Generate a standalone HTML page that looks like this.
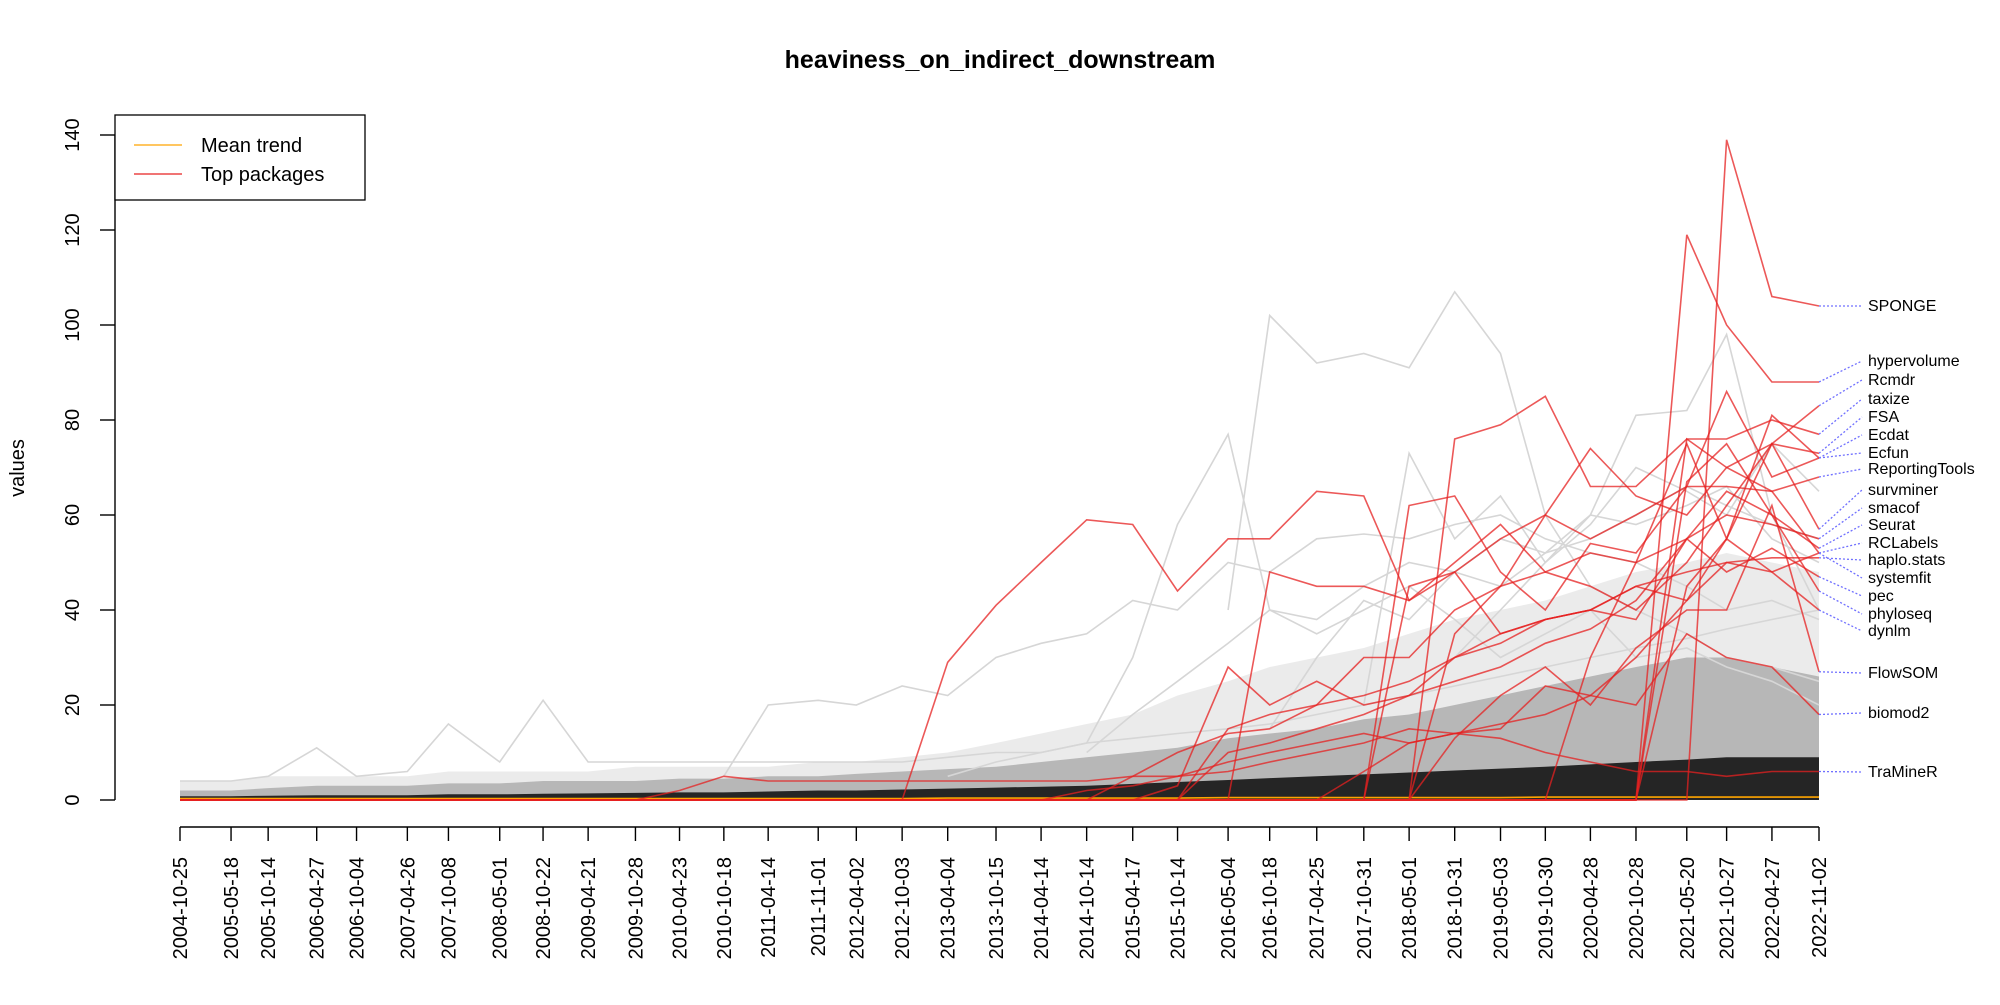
<!DOCTYPE html>
<html><head><meta charset="utf-8"><style>
html,body{margin:0;padding:0;background:#fff;}
svg text{font-family:"Liberation Sans",sans-serif;}
</style></head><body>
<svg id="chart" width="2000" height="1000" xmlns="http://www.w3.org/2000/svg">
<rect width="2000" height="1000" fill="#fff"/>
<text x="1000" y="68" text-anchor="middle" font-size="25" font-weight="bold">heaviness_on_indirect_downstream</text>
<text transform="rotate(-90,24,468)" x="24" y="468" text-anchor="middle" font-size="20">values</text>
<g id="bands"></g><g id="grey"></g><g id="mean"></g><g id="red"></g><g id="conn"></g><g id="axes"></g>
<g>
<rect x="115" y="115" width="250" height="85" fill="#fff" stroke="#000" stroke-width="1.3"/>
<line x1="134" y1="145" x2="182" y2="145" stroke="#ffa500" stroke-width="1.3"/>
<text x="201" y="152" font-size="20">Mean trend</text>
<line x1="134" y1="174" x2="182" y2="174" stroke="#e62020" stroke-width="1.3"/>
<text x="201" y="181" font-size="20">Top packages</text>
</g>
</svg>
<script>
const dates=["2004-10-25","2005-05-18","2005-10-14","2006-04-27","2006-10-04","2007-04-26","2007-10-08","2008-05-01","2008-10-22","2009-04-21","2009-10-28","2010-04-23","2010-10-18","2011-04-14","2011-11-01","2012-04-02","2012-10-03","2013-04-04","2013-10-15","2014-04-14","2014-10-14","2015-04-17","2015-10-14","2016-05-04","2016-10-18","2017-04-25","2017-10-31","2018-05-01","2018-10-31","2019-05-03","2019-10-30","2020-04-28","2020-10-28","2021-05-20","2021-10-27","2022-04-27","2022-11-02"];
const yTicks=[0,20,40,60,80,100,120,140];
const bandLight=[4,4,5,5,5,5,6,6,6,6,7,7,7,7,8,8,9,10,12,14,16,18,22,25,28,30,32,35,38,40,42,45,48,50,52,50,48];
const bandMid=[2,2,2.5,3,3,3,3.5,3.5,4,4,4,4.5,4.5,5,5,5.5,6,6.5,7,8,9,10,11,13,14,15,17,18,20,22,24,26,28,30,30,28,26];
const bandDark=[0.8,0.8,0.9,1,1,1,1.2,1.2,1.3,1.4,1.5,1.6,1.6,1.8,2,2,2.2,2.4,2.6,2.8,3,3.4,3.8,4.2,4.6,5,5.4,5.8,6.2,6.6,7,7.5,8,8.5,9,9,9];
const meanTrend=[0.3,0.3,0.3,0.3,0.3,0.3,0.3,0.3,0.3,0.3,0.3,0.3,0.3,0.3,0.3,0.3,0.3,0.4,0.4,0.4,0.4,0.4,0.4,0.5,0.5,0.5,0.5,0.5,0.5,0.5,0.6,0.6,0.6,0.6,0.6,0.6,0.6];
const greyStarts=[23,17,28,0,12,26,20,24];
const greyVals=[
[40,102,92,94,91,107,94,60,45,40,35,30,28,25],
[5,8,10,12,30,58,77,40,35,40,45,38,30,35,40,30,32,28,25,20],
[30,40,50,60,81,82,98,60,40],
[4,4,5,11,5,6,16,8,21,8,8,8,8,8,8,8,8,9,10,10,12,13,14,15,16,18,20,22,24,26,28,30,32,34,36,38,40],
[5,20,21,20,24,22,30,33,35,42,40,50,48,55,56,55,58,60,55,52,50,45,40,42,38],
[20,73,55,64,50,58,70,65,60,75,65],
[10,18,25,33,40,38,45,50,48,55,52,60,58,62,66,55,50],
[15,30,42,38,48,45,52,55,60,66,62,58,55]];
const redNames=["SPONGE","hypervolume","Rcmdr","taxize","FSA","Ecdat","Ecfun","ReportingTools","survminer","smacof","Seurat","RCLabels","haplo.stats","systemfit","pec","phyloseq","dynlm","FlowSOM","biomod2","TraMineR"];
const redStarts=[33,32,16,27,26,26,30,27,32,22,29,31,20,23,21,22,24,25,19,10];
const redVals=[
[0,139,106,104],
[0,119,100,88,88],
[0,29,41,50,59,58,44,55,55,65,64,42,50,58,48,45,40,50,62,75,83],
[0,76,79,85,66,66,76,76,80,77],
[0,45,48,55,60,74,64,60,70,75,73],
[0,62,64,48,40,54,52,66,86,68,72],
[0,30,50,75,55,81,72],
[0,35,45,60,55,60,66,66,65,68],
[0,45,55,75,57],
[0,15,18,20,30,30,40,45,48,52,50,55,60,58,55],
[0,0,0,0,67,75,60,53],
[0,0,76,70,65,52],
[0,5,10,14,15,20,22,25,30,35,38,40,45,48,50,51,51],
[0,48,45,45,42,48,35,38,40,45,42,55,48,52],
[0,3,28,20,25,20,22,30,33,38,40,38,55,48,53,47],
[0,10,12,15,18,22,25,28,33,36,42,55,65,60,44],
[0,0,6,12,14,16,18,22,30,42,50,48,40],
[0,0,0,13,22,28,20,32,40,40,62,27],
[0,2,3,5,8,10,12,14,12,14,15,24,22,20,35,30,28,18],
[0,2,5,4,4,4,4,4,4,4,4,5,5,6,8,10,12,15,14,13,10,8,6,6,5,6,6]];
const labelYs=[306,361,380,399,417,435,453,469,490,508,525,543,560,578,596,614,631,673,713,772];

const NS="http://www.w3.org/2000/svg";
const X0=180,X1=1819,Y0=800,Y140=135;
const t0=Date.parse(dates[0]),t1=Date.parse(dates[dates.length-1]);
function xs(i){return X0+(Date.parse(dates[i])-t0)/(t1-t0)*(X1-X0);}
function ys(v){return Y0-v*(Y0-Y140)/140;}
function mk(tag,attrs,parent){const e=document.createElementNS(NS,tag);for(const k in attrs)e.setAttribute(k,attrs[k]);parent.appendChild(e);return e;}
function ptsFrom(start,vals){return vals.map((v,j)=>xs(start+j).toFixed(1)+","+ys(v).toFixed(1)).join(" ");}

const bands=document.getElementById('bands');
[[bandLight,0.08],[bandMid,0.22],[bandDark,0.8]].forEach((b,k)=>{
 const top=b[0].map((v,i)=>xs(i).toFixed(1)+","+ys(v).toFixed(1));
 const bot=b[0].map((v,i)=>xs(i).toFixed(1)+","+ys(0).toFixed(1)).reverse();
 const p=mk('polygon',{points:top.concat(bot).join(" "),fill:"#000","fill-opacity":b[1]},bands);
 
 
});
const grey=document.getElementById('grey');
greyVals.forEach((vals,k)=>{
 const l=mk('polyline',{points:ptsFrom(greyStarts[k],vals),fill:"none",stroke:"#d6d6d6","stroke-width":1.6},grey);
 
 
});
const meanG=document.getElementById('mean');
const ml=mk('polyline',{points:ptsFrom(0,meanTrend),fill:"none",stroke:"#ffa500","stroke-width":1.6},meanG);


const red=document.getElementById('red');
const conn=document.getElementById('conn');
redVals.forEach((vals,k)=>{
 const pts=xs(0).toFixed(1)+","+ys(0).toFixed(1)+" "+ptsFrom(redStarts[k],vals);
 const l=mk('polyline',{points:pts,fill:"none",stroke:"#e62020","stroke-opacity":0.75,"stroke-width":1.6},red);
 
 
 const endV=vals[vals.length-1];
 const c=mk('line',{x1:X1,y1:ys(endV),x2:1862,y2:labelYs[k],stroke:"#7070ff","stroke-width":1.3,"stroke-dasharray":"2,2"},conn);
 
 
 const t=mk('text',{x:1868,y:labelYs[k]+5,"font-size":16},conn);
 t.textContent=redNames[k];
 
 
});
const ax=document.getElementById('axes');
const ya=mk('line',{x1:115,y1:ys(0),x2:115,y2:ys(140),stroke:"#000","stroke-width":1.4},ax);


yTicks.forEach(v=>{
 const tl=mk('line',{x1:100,y1:ys(v),x2:115,y2:ys(v),stroke:"#000","stroke-width":1.4},ax);
 
 
 const t=mk('text',{x:79,y:ys(v),"text-anchor":"middle","font-size":20,transform:`rotate(-90,79,${ys(v)})`},ax);
 t.textContent=v;
 
 
});
const xa=mk('line',{x1:X0,y1:827,x2:X1,y2:827,stroke:"#000","stroke-width":1.4},ax);


dates.forEach((d,i)=>{
 const x=xs(i);
 const tl=mk('line',{x1:x,y1:827,x2:x,y2:841,stroke:"#000","stroke-width":1.4},ax);
 
 
 const t=mk('text',{x:x+7,y:857,"text-anchor":"end","font-size":20,transform:`rotate(-90,${x+7},857)`},ax);
 t.textContent=d;
 
 
});
</script>
</body></html>
